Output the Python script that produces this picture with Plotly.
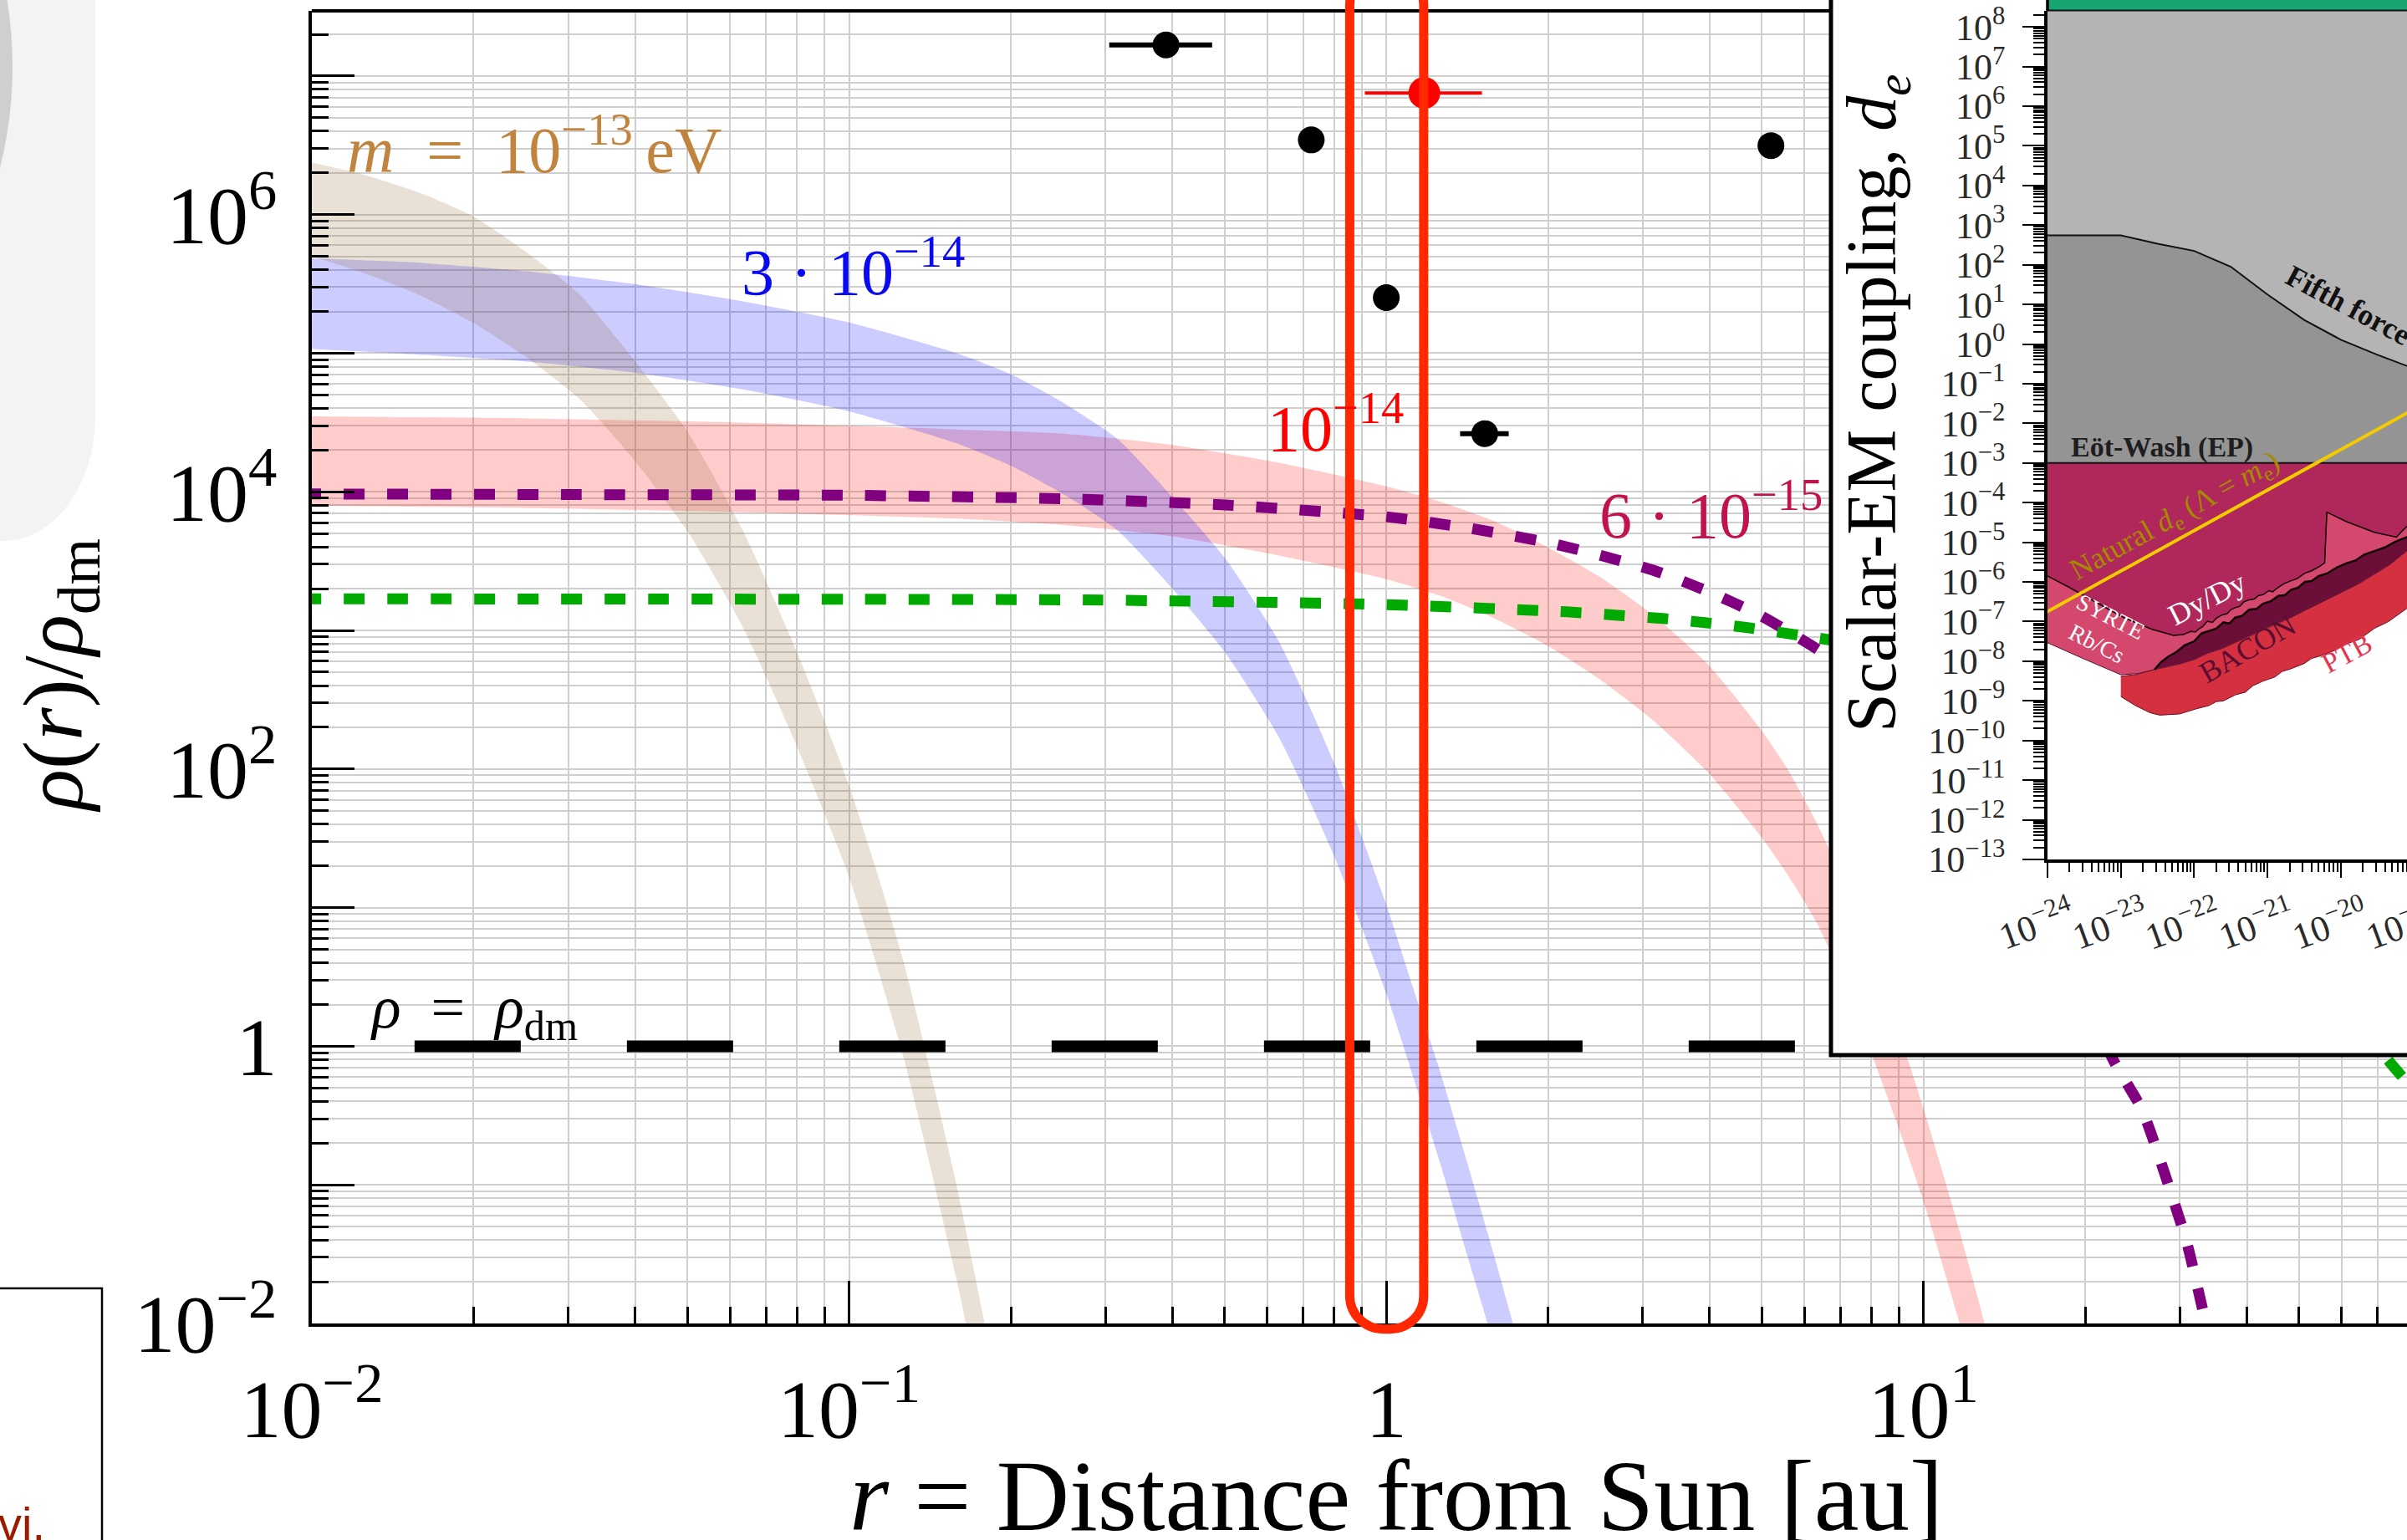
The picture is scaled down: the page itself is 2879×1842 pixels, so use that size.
import math
import plotly.graph_objects as go

SERIF = "Liberation Serif, 'Times New Roman', serif"
SANS = "Liberation Sans, Arial, sans-serif"

# ---------------- canvas / main plotting area (pixels) ----------------
W, H = 2879, 1842
ML, MR, MT, MB = 373, 0, 13, 259
PW, PH = W - ML - MR, H - MT - MB

X_LOG_RANGE = [-2.0, 1.9]      # log10(r / au)
Y_LOG_RANGE = [-2.0, 7.47]     # log10(rho / rho_dm)

# ---------------- main panel data (log10 values) ----------------
# m = 1e-13 eV band
TAN_LOG_R = [-2.05, -2.0, -1.9, -1.8, -1.7, -1.6, -1.5, -1.4, -1.3, -1.2, -1.1, -1.0, -0.9, -0.8, -0.75, -0.72]
TAN_LOG_HI = [6.42, 6.376, 6.283, 6.158, 5.987, 5.727, 5.418, 4.95, 4.43, 3.74, 2.87, 1.88, 0.63, -1.0, -1.96, -2.55]
TAN_LOG_LO = [5.76, 5.70, 5.575, 5.42, 5.22, 4.97, 4.664, 4.23, 3.71, 3.04, 2.19, 1.22, -0.06, -1.68, -2.62, -3.2]

# m = 3e-14 eV band
BLUE_LOG_R = [-2.05, -2.0, -1.8, -1.6, -1.4, -1.2, -1.0, -0.8, -0.7, -0.6, -0.5, -0.4, -0.3, -0.2, -0.1, 0.0,
              0.05, 0.1, 0.15, 0.2, 0.25, 0.28]
BLUE_LOG_HI = [5.69, 5.684, 5.653, 5.591, 5.499, 5.376, 5.222, 5.00, 4.85, 4.64, 4.38, 3.97, 3.52, 2.92, 2.07, 1.02,
               0.42, -0.18, -0.83, -1.50, -2.20, -2.62]
BLUE_LOG_LO = [5.04, 5.03, 4.99, 4.94, 4.86, 4.74, 4.58, 4.35, 4.19, 3.98, 3.72, 3.31, 2.84, 2.23, 1.40, 0.38,
               -0.22, -0.84, -1.50, -2.15, -2.86, -3.3]

# m = 1e-14 eV band
RED_LOG_R = [-2.05, -2.0, -1.6, -1.2, -0.8, -0.6, -0.4, -0.2, 0.0, 0.1, 0.2, 0.3, 0.4, 0.5, 0.6, 0.7, 0.75, 0.8,
             0.85, 0.9, 0.95, 1.0, 1.05, 1.1, 1.15]
RED_LOG_HI = [4.546, 4.545, 4.53, 4.50, 4.45, 4.42, 4.34, 4.21, 4.04, 3.93, 3.79, 3.60, 3.38, 3.10, 2.75, 2.27, 1.98,
              1.62, 1.20, 0.70, 0.15, -0.45, -1.10, -1.80, -2.6]
RED_LOG_LO = [3.90, 3.899, 3.883, 3.853, 3.807, 3.76, 3.68, 3.54, 3.37, 3.25, 3.09, 2.89, 2.64, 2.34, 1.97, 1.50, 1.22,
              0.90, 0.48, -0.02, -0.55, -1.12, -1.77, -2.45, -3.2]

# m = 6e-15 eV profile (dashed purple)
PURPLE_LOG_R = [-2.022, -1.5, -1.0, -0.6, -0.3, 0.0, 0.15, 0.3, 0.4, 0.5, 0.6, 0.7, 0.8, 0.9, 1.0, 1.2, 1.352,
                1.407, 1.461, 1.491, 1.522, 1.56]
PURPLE_LOG_RHO = [3.985, 3.98, 3.975, 3.95, 3.905, 3.82, 3.74, 3.635, 3.54, 3.43, 3.28, 3.10, 2.87, 2.6, 2.25, 1.3,
                  -0.09, -0.46, -1.06, -1.43, -1.94, -2.6]

# lighter profile (dashed green)
GREEN_LOG_R = [-2.022, -1.0, -0.557, -0.021, 0.336, 0.431, 0.515, 0.593, 0.673, 0.753, 0.822, 1.0, 1.2, 1.4, 1.6,
               1.75, 1.862, 1.9, 1.95]
GREEN_LOG_RHO = [3.228, 3.225, 3.22, 3.189, 3.134, 3.109, 3.086, 3.056, 3.020, 2.974, 2.934, 2.80, 2.55, 2.1, 1.35,
                 0.55, -0.086, -0.26, -0.5]

# rho = rho_dm reference line
RHO_DM_R = [0.01553, 100.0]
RHO_DM_VALUE = [1.0, 1.0]

# planetary constraints: orbit radius range [au] and density bound
PLANET_R = [0.389, 0.725, 1.0, 1.525, 5.2]
PLANET_R_MIN = [0.305, 0.725, 1.0, 1.372, 5.2]
PLANET_R_MAX = [0.474, 0.725, 1.0, 1.69, 5.2]
PLANET_RHO = [1.675e7, 3.459e6, 2.518e5, 2.630e4, 3.148e6]

PROBE_R = [1.177]
PROBE_R_MIN = [0.912]
PROBE_R_MAX = [1.507]
PROBE_RHO = [7.55e6]

# highlighted window around 1 au
HIGHLIGHT_R = [0.855, 1.174]
HIGHLIGHT_RHO = [10 ** -2.04, 10 ** 7.75]

# ---------------- inset data: log10(m/eV) vs log10(d_e) ----------------
FIFTH_LOG_M = [-24.2, -24.0, -23.0, -22.5, -22.0, -21.5, -21.0, -20.5, -20.0, -19.5, -19.1, -18.9]
FIFTH_LOG_DE = [2.74, 2.74, 2.74, 2.53, 2.35, 1.95, 1.25, 0.61, 0.11, -0.27, -0.55, -0.69]
EOTWASH_LOG_DE = -3.0

DYDY_LOG_M = [-24.1, -24.0, -23.72, -23.34, -22.96, -22.58, -22.28, -22.15, -22.05, -21.98, -21.94, -21.88,
              -21.82, -21.75, -21.70, -21.63, -21.55, -21.50, -21.44, -21.38, -21.32, -21.25, -21.18, -21.12,
              -21.06, -20.98, -20.93, -20.87, -20.78, -20.68, -20.60, -20.49, -20.40, -20.30, -20.22, -20.19,
              -19.92, -19.54, -19.24, -19.16, -19.10, -18.9]
DYDY_LOG_DE = [-5.78, -5.85, -6.12, -6.51, -6.90, -7.19, -7.35, -7.33, -7.25, -7.26, -7.19, -7.12,
               -6.99, -7.02, -6.92, -6.84, -6.80, -6.70, -6.65, -6.62, -6.50, -6.45, -6.43, -6.34,
               -6.32, -6.22, -6.25, -6.16, -6.05, -5.97, -5.92, -5.78, -5.72, -5.62, -5.52, -4.24,
               -4.48, -4.75, -4.87, -4.71, -4.60, -4.45]

SYRTE_LOW_LOG_M = [-24.1, -24.0, -23.53, -23.0, -22.77, -22.54]
SYRTE_LOW_LOG_DE = [-7.45, -7.53, -7.92, -8.34, -8.31, -8.21]

BACON_TOP_LOG_M = [-22.54, -22.45, -22.35, -22.25, -22.13, -22.0, -21.9, -21.82, -21.7, -21.6, -21.52, -21.44,
                   -21.35, -21.25, -21.15, -21.06, -20.95, -20.85, -20.76, -20.68, -20.58, -20.49, -20.40, -20.30,
                   -20.18, -20.05, -19.92, -19.80, -19.68, -19.54, -19.40, -19.25, -19.10, -18.9]
BACON_TOP_LOG_DE = [-8.21, -8.02, -7.88, -7.78, -7.60, -7.50, -7.30, -7.25, -7.18, -7.02, -7.05, -6.90,
                    -6.86, -6.70, -6.68, -6.55, -6.48, -6.35, -6.33, -6.20, -6.14, -6.00, -5.98, -5.85,
                    -5.78, -5.63, -5.53, -5.46, -5.31, -5.22, -5.13, -4.98, -4.87, -4.72]
BACON_BOT_LOG_M = [-22.54, -22.40, -22.20, -22.0, -21.82, -21.62, -21.44, -21.25, -21.06, -20.87, -20.68, -20.49,
                   -20.30, -20.11, -19.92, -19.73, -19.54, -19.32, -19.10, -18.9]
BACON_BOT_LOG_DE = [-8.21, -8.15, -8.07, -7.96, -7.80, -7.68, -7.53, -7.38, -7.21, -7.05, -6.90, -6.72,
                    -6.55, -6.38, -6.20, -6.02, -5.81, -5.55, -5.22, -5.05]

PTB_TOP_LOG_M = [-23.0, -22.77]
PTB_TOP_LOG_DE = [-8.38, -8.33]
PTB_LOW_LOG_M = [-23.0, -22.8, -22.6, -22.47, -22.2, -21.97, -21.8, -21.7, -21.6, -21.44, -21.3, -21.2, -21.06,
                 -20.9, -20.8, -20.68, -20.5, -20.4, -20.30, -20.1, -19.92, -19.75, -19.54, -19.35, -19.10, -18.9]
PTB_LOW_LOG_DE = [-8.89, -9.12, -9.30, -9.36, -9.33, -9.20, -9.12, -9.02, -9.00, -8.85, -8.78, -8.62, -8.50,
                  -8.40, -8.26, -8.19, -8.06, -7.93, -7.88, -7.74, -7.56, -7.45, -7.17, -7.00, -6.67, -6.50]

NATURAL_LOG_M = [-24.2, -18.9]
NATURAL_LOG_DE = [-6.95, -1.54]

INSET_X_LOG_RANGE = [-24.0, -19.097]
INSET_Y_LOG_RANGE = [-13.0, 8.404]
INSET_X_TICK_EXP = [-24, -23, -22, -21, -20, -19]

# inset placement (pixels)
FRAME_LEFT, FRAME_BOTTOM = 2190, 1262
INNER_LEFT, INNER_BOTTOM = 2449, 1028


# ---------------- helpers ----------------
def lin(vals):
    return [10.0 ** v for v in vals]


def paper(fx, fy):
    return (fx - ML) / PW, (H - MB - fy) / PH


def data_to_px(r, rho):
    fx = ML + (math.log10(r) - X_LOG_RANGE[0]) / (X_LOG_RANGE[1] - X_LOG_RANGE[0]) * PW
    fy = MT + (Y_LOG_RANGE[1] - math.log10(rho)) / (Y_LOG_RANGE[1] - Y_LOG_RANGE[0]) * PH
    return fx, fy


def inset_x_px(log_m):
    span = INSET_X_LOG_RANGE[1] - INSET_X_LOG_RANGE[0]
    return INNER_LEFT + (log_m - INSET_X_LOG_RANGE[0]) / span * (W - INNER_LEFT)


def pt(fx, fy):
    px, py = paper(fx, fy)
    return f"{px:.6f},{py:.6f}"


def rounded_box_path(x0, y0, x1, y1, r):
    """Pixel box (y downward) with round corners -> SVG path in paper units."""
    k = 0.5523 * r
    return (f"M{pt(x0, y0 + r)} L{pt(x0, y1 - r)} "
            f"C{pt(x0, y1 - r + k)} {pt(x0 + r - k, y1)} {pt(x0 + r, y1)} "
            f"L{pt(x1 - r, y1)} "
            f"C{pt(x1 - r + k, y1)} {pt(x1, y1 - r + k)} {pt(x1, y1 - r)} "
            f"L{pt(x1, y0 + r)} "
            f"C{pt(x1, y0 + r - k)} {pt(x1 - r + k, y0)} {pt(x1 - r, y0)} "
            f"L{pt(x0 + r, y0)} "
            f"C{pt(x0 + r - k, y0)} {pt(x0, y0 + r - k)} {pt(x0, y0 + r)} Z")


def band(log_r, log_hi, log_lo, color):
    xs = lin(log_r) + lin(log_r[::-1])
    ys = lin(log_hi) + lin(log_lo[::-1])
    return go.Scatter(x=xs, y=ys, mode="lines", fill="toself", fillcolor=color,
                      line=dict(width=0, shape="spline", smoothing=0.6), hoverinfo="skip")


def inset_poly(log_m, log_de, color, line_color=None, line_width=0):
    return go.Scatter(x=lin(log_m), y=lin(log_de), mode="lines", fill="toself", fillcolor=color,
                      line=dict(width=line_width, color=line_color or color),
                      xaxis="x3", yaxis="y3", hoverinfo="skip")


def inset_line(log_m, log_de, color, width):
    return go.Scatter(x=lin(log_m), y=lin(log_de), mode="lines", line=dict(color=color, width=width),
                      xaxis="x3", yaxis="y3", hoverinfo="skip")


def pow_label(n, keep_zero=False):
    if n == 0 and not keep_zero:
        return "1"
    s = str(n).replace("-", "\u2212")
    return f"10<sup>{s}</sup>"


def minor_vals(n0, n1):
    return [k * 10.0 ** n for n in range(n0, n1 + 1) for k in range(2, 10)]


fig = go.Figure()

# ---------------- main panel ----------------
fig.add_trace(band(RED_LOG_R, RED_LOG_HI, RED_LOG_LO, "rgba(255,0,0,0.2)"))
fig.add_trace(band(BLUE_LOG_R, BLUE_LOG_HI, BLUE_LOG_LO, "rgba(0,0,255,0.2)"))
fig.add_trace(band(TAN_LOG_R, TAN_LOG_HI, TAN_LOG_LO, "rgba(145,100,50,0.2)"))

fig.add_trace(go.Scatter(x=lin(PURPLE_LOG_R), y=lin(PURPLE_LOG_RHO), mode="lines", hoverinfo="skip",
                         line=dict(color="#800080", width=13, dash="25px,27px", shape="spline", smoothing=0.6)))
fig.add_trace(go.Scatter(x=lin(GREEN_LOG_R), y=lin(GREEN_LOG_RHO), mode="lines", hoverinfo="skip",
                         line=dict(color="#00aa00", width=13, dash="25px,27px", shape="spline", smoothing=0.6)))
fig.add_trace(go.Scatter(x=RHO_DM_R, y=RHO_DM_VALUE, mode="lines", hoverinfo="skip",
                         line=dict(color="black", width=14, dash="127px,127px")))

fig.add_trace(go.Scatter(
    x=PLANET_R, y=PLANET_RHO, mode="markers", hoverinfo="skip",
    marker=dict(color="black", size=32, line=dict(width=0)),
    error_x=dict(type="data", symmetric=False,
                 array=[hi - r for r, hi in zip(PLANET_R, PLANET_R_MAX)],
                 arrayminus=[r - lo for r, lo in zip(PLANET_R, PLANET_R_MIN)],
                 thickness=6, width=0, color="black")))
fig.add_trace(go.Scatter(
    x=PROBE_R, y=PROBE_RHO, mode="markers", hoverinfo="skip",
    marker=dict(color="#ff0000", size=38, line=dict(width=0)),
    error_x=dict(type="data", symmetric=False,
                 array=[hi - r for r, hi in zip(PROBE_R, PROBE_R_MAX)],
                 arrayminus=[r - lo for r, lo in zip(PROBE_R, PROBE_R_MIN)],
                 thickness=4, width=0, color="#ff0000")))

# ---------------- inset background (covers the main panel) ----------------
fig.add_trace(go.Scatter(x=[None], y=[None], xaxis="x2", yaxis="y2", hoverinfo="skip"))

# ---------------- inset exclusion regions ----------------
fig.add_trace(inset_poly(FIFTH_LOG_M + [-18.9, -24.2], FIFTH_LOG_DE + [9.0, 9.0], "#b4b4b4"))
fig.add_trace(inset_poly(FIFTH_LOG_M + [-18.9, -24.2], FIFTH_LOG_DE + [EOTWASH_LOG_DE, EOTWASH_LOG_DE], "#949494"))
fig.add_trace(inset_poly([-24.1, -18.9] + DYDY_LOG_M[::-1],
                         [EOTWASH_LOG_DE, EOTWASH_LOG_DE] + DYDY_LOG_DE[::-1], "#b0285b"))
fig.add_trace(inset_poly(DYDY_LOG_M + BACON_TOP_LOG_M[::-1] + SYRTE_LOW_LOG_M[::-1][1:],
                         DYDY_LOG_DE + BACON_TOP_LOG_DE[::-1] + SYRTE_LOW_LOG_DE[::-1][1:],
                         "#d4486e", "#5a1030", 1))
fig.add_trace(inset_poly(PTB_TOP_LOG_M + BACON_BOT_LOG_M + PTB_LOW_LOG_M[::-1],
                         PTB_TOP_LOG_DE + BACON_BOT_LOG_DE + PTB_LOW_LOG_DE[::-1],
                         "#d5303f", "#6a1020", 1))
fig.add_trace(inset_poly(BACON_TOP_LOG_M + BACON_BOT_LOG_M[::-1],
                         BACON_TOP_LOG_DE + BACON_BOT_LOG_DE[::-1], "#6b0f39"))
fig.add_trace(inset_line(BACON_TOP_LOG_M, BACON_TOP_LOG_DE, "#140008", 2.5))
fig.add_trace(inset_line(DYDY_LOG_M, DYDY_LOG_DE, "#1a0008", 1.5))
fig.add_trace(inset_line([-24.2, -18.9], [EOTWASH_LOG_DE, EOTWASH_LOG_DE], "#111111", 2))
fig.add_trace(inset_line(FIFTH_LOG_M, FIFTH_LOG_DE, "#111111", 2))
fig.add_trace(inset_line(NATURAL_LOG_M, NATURAL_LOG_DE, "#f2cc00", 4))

# ---------------- axes ----------------
GRID = "#cfcfcf"
x_major = [10.0 ** n for n in range(-2, 2)]
y_major = [10.0 ** n for n in range(-2, 8)]
x_minor = [v for v in minor_vals(-2, 1) if math.log10(v) <= X_LOG_RANGE[1]]
y_minor = [v for v in minor_vals(-2, 7) if math.log10(v) <= Y_LOG_RANGE[1]]

axis_common = dict(type="log", showline=True, linecolor="black", linewidth=4, mirror=False,
                   ticks="inside", tickcolor="black", tickwidth=2.5, ticklen=51,
                   showgrid=True, gridcolor=GRID, gridwidth=2, zeroline=False,
                   tickfont=dict(family=SERIF, size=98, color="black"))

ins_x_major = [10.0 ** n for n in range(-24, -19)]
ins_y_major = [10.0 ** n for n in range(-13, 9)]

fig.update_layout(
    width=W, height=H,
    margin=dict(l=ML, r=MR, t=MT, b=MB, pad=0),
    paper_bgcolor="white", plot_bgcolor="white",
    showlegend=False, hovermode=False,
    xaxis=dict(axis_common, range=X_LOG_RANGE, domain=[0, 1], anchor="y",
               tickmode="array", tickvals=x_major, ticktext=[pow_label(n) for n in range(-2, 2)],
               ticklabelstandoff=14,
               minor=dict(tickmode="array", tickvals=x_minor, ticks="inside", ticklen=20, tickwidth=2.5,
                          tickcolor="black", showgrid=True, gridcolor=GRID, gridwidth=2)),
    yaxis=dict(axis_common, range=Y_LOG_RANGE, domain=[0, 1], anchor="x",
               tickmode="array", tickvals=y_major,
               ticktext=[pow_label(n) if n % 2 == 0 else "" for n in range(-2, 8)],
               ticklabelstandoff=18,
               minor=dict(tickmode="array", tickvals=y_minor, ticks="inside", ticklen=20, tickwidth=2.5,
                          tickcolor="black", showgrid=True, gridcolor=GRID, gridwidth=2)),
    xaxis2=dict(domain=[paper(FRAME_LEFT, 0)[0], 1], anchor="y2", range=[0, 1], visible=False),
    yaxis2=dict(domain=[paper(0, FRAME_BOTTOM)[1], 1], anchor="x2", range=[0, 1], visible=False),
    xaxis3=dict(type="log", range=INSET_X_LOG_RANGE, domain=[paper(INNER_LEFT, 0)[0], 1], anchor="y3",
                showline=True, linecolor="black", linewidth=3.5, mirror=False, showgrid=False, zeroline=False,
                ticks="outside", ticklen=18, tickwidth=2, tickcolor="black",
                tickmode="array", tickvals=ins_x_major, showticklabels=False,
                minor=dict(tickmode="array", tickvals=minor_vals(-24, -20), ticks="outside", ticklen=11,
                           tickwidth=1.5, tickcolor="black")),
    yaxis3=dict(type="log", range=INSET_Y_LOG_RANGE, domain=[paper(0, INNER_BOTTOM)[1], 1], anchor="x3",
                showline=True, linecolor="black", linewidth=3.5, mirror=False, showgrid=False, zeroline=False,
                ticks="outside", ticklen=26, tickwidth=2, tickcolor="black",
                tickmode="array", tickvals=ins_y_major,
                ticktext=[pow_label(n, keep_zero=True) for n in range(-13, 9)],
                tickfont=dict(family=SERIF, size=44, color="#2a2a2a"), ticklabelstandoff=12,
                minor=dict(tickmode="array", tickvals=minor_vals(-13, 8), ticks="outside", ticklen=13,
                           tickwidth=1.5, tickcolor="black")),
)

# ---------------- shapes ----------------
shapes = []
# light slide panel on the far left with rounded lower corner
c = 0.5523
shapes.append(dict(type="path", xref="paper", yref="paper", layer="above",
                   path=(f"M{pt(-20, -20)} L{pt(114, -20)} L{pt(114, 497)} "
                         f"C{pt(114, 497 + c * 150)} {pt(4 + c * 110, 647)} {pt(4, 647)} "
                         f"L{pt(-20, 647)} Z"),
                   fillcolor="#f3f3f3", line=dict(width=0)))
x0, y0 = paper(-700, -340)
x1, y1 = paper(15, 500)
shapes.append(dict(type="circle", xref="paper", yref="paper", layer="above",
                   x0=x0, x1=x1, y0=y1, y1=y0, fillcolor="#cecfd1", line=dict(width=0)))
# boxed note at the lower left
x0, y0 = paper(-20, 1541)
x1, y1 = paper(122, 1900)
shapes.append(dict(type="rect", xref="paper", yref="paper", layer="above",
                   x0=x0, x1=x1, y0=y1, y1=y0, fillcolor="white", line=dict(color="black", width=2.5)))
# top spine of the main panel
shapes.append(dict(type="line", xref="paper", yref="paper", layer="above",
                   x0=0, x1=paper(FRAME_LEFT, 0)[0], y0=1, y1=1, line=dict(color="black", width=4)))
# inset frame
x0, y0 = paper(FRAME_LEFT, FRAME_BOTTOM)
x1, y1 = paper(W + 100, -100)
shapes.append(dict(type="rect", xref="paper", yref="paper", layer="above",
                   x0=x0, x1=x1, y0=y0, y1=y1, line=dict(color="black", width=5)))
# inset top strip and spine extension
x0, y0 = paper(INNER_LEFT, 12.5)
x1, y1 = paper(W + 10, -10)
shapes.append(dict(type="rect", xref="paper", yref="paper", layer="above",
                   x0=x0, x1=x1, y0=y0, y1=y1, fillcolor="#17a572", line=dict(width=0)))
shapes.append(dict(type="line", xref="paper", yref="paper", layer="above",
                   x0=x0, x1=x1, y0=y0, y1=y0, line=dict(color="#111111", width=2)))
xs, ys0 = paper(INNER_LEFT, MT)
_, ys1 = paper(INNER_LEFT, -10)
shapes.append(dict(type="line", xref="paper", yref="paper", layer="above",
                   x0=xs, x1=xs, y0=ys0, y1=ys1, line=dict(color="black", width=3.5)))
# highlighted window around 1 au
hx0, hy_top = data_to_px(HIGHLIGHT_R[0], HIGHLIGHT_RHO[1])
hx1, hy_bot = data_to_px(HIGHLIGHT_R[1], HIGHLIGHT_RHO[0])
shapes.append(dict(type="path", xref="paper", yref="paper", layer="above",
                   path=rounded_box_path(hx0, hy_top, hx1, hy_bot, 40),
                   line=dict(color="#ff2800", width=11)))
fig.update_layout(shapes=shapes)

# ---------------- text ----------------
ann = []


def label(x_log, y_log, text, color, size, xanchor="left", angle=0, xref="x", yref="y", family=SERIF):
    ann.append(dict(x=x_log, y=y_log, xref=xref, yref=yref, text=text, showarrow=False,
                    xanchor=xanchor, yanchor="middle", textangle=angle,
                    font=dict(family=family, size=size, color=color)))


label(-1.938, 6.504, "<i>m</i>\u2002=\u200210<sup>\u221213</sup>\u2009eV", "#c0843f", 78)
label(-1.203, 5.624, "3 \u00b7 10<sup>\u221214</sup>", "#0a0af0", 78)
label(-0.225, 4.496, "10<sup>\u221214</sup>", "#ff0000", 78)
label(0.393, 3.869, "6 \u00b7 10<sup>\u221215</sup>", "#c0134f", 78)
label(-1.894, 0.25, "<i>\u03c1</i>\u2002=\u2002<i>\u03c1</i><sub>dm</sub>", "black", 72)

# axis titles
px, py = paper(1670, 1789)
label(px, py, "<i>r</i> = Distance from Sun [au]", "black", 121, xanchor="center", xref="paper", yref="paper")
px, py = paper(70, 808)
label(px, py, "<i>\u03c1</i>(<i>r</i>)/<i>\u03c1</i><sub>dm</sub>", "black", 102, xanchor="center", angle=-90,
      xref="paper", yref="paper")

# inset texts
px, py = paper(2245, 483)
label(px, py, "Scalar-EM coupling, <i>d</i><sub><i>e</i></sub>", "black", 84, xanchor="center", angle=-90,
      xref="paper", yref="paper")
for n in INSET_X_TICK_EXP:
    px, py = paper(inset_x_px(n) - 14, 1103)
    label(px, py, pow_label(n), "#2a2a2a", 44, xanchor="center", angle=-20, xref="paper", yref="paper")
label(-22.44, -2.60, "<b>E\u00f6t-Wash (EP)</b>", "#1e1e1e", 34, xanchor="center", xref="x3", yref="y3")
label(-22.26, -4.36, "Natural <i>d</i><sub>e</sub> (\u039b = <i>m</i><sub>e</sub>)", "#a68a00", 36,
      xanchor="center", angle=-29, xref="x3", yref="y3")
label(-21.82, -6.43, "Dy/Dy", "white", 36, xanchor="center", angle=-27, xref="x3", yref="y3")
label(-23.23, -7.21, "SYRTE<br>Rb/Cs", "white", 28, xanchor="center", angle=27, xref="x3", yref="y3")
label(-21.27, -7.68, "BACON", "#5a0d33", 36, xanchor="center", angle=-30, xref="x3", yref="y3")
label(-19.92, -7.80, "PTB", "#e33550", 34, xanchor="center", angle=-28, xref="x3", yref="y3")
label(-19.90, 0.99, "<b>Fifth force</b>", "#111111", 36, xanchor="center", angle=28, xref="x3", yref="y3")

# cut-off note text at lower left
px, py = paper(-4, 1822)
label(px, py, "vi.", "#9b1c00", 56, xanchor="left", xref="paper", yref="paper", family=SANS)

fig.update_layout(annotations=ann)

fig.write_html("out.html", post_script="document.body.style.margin='0px';")
